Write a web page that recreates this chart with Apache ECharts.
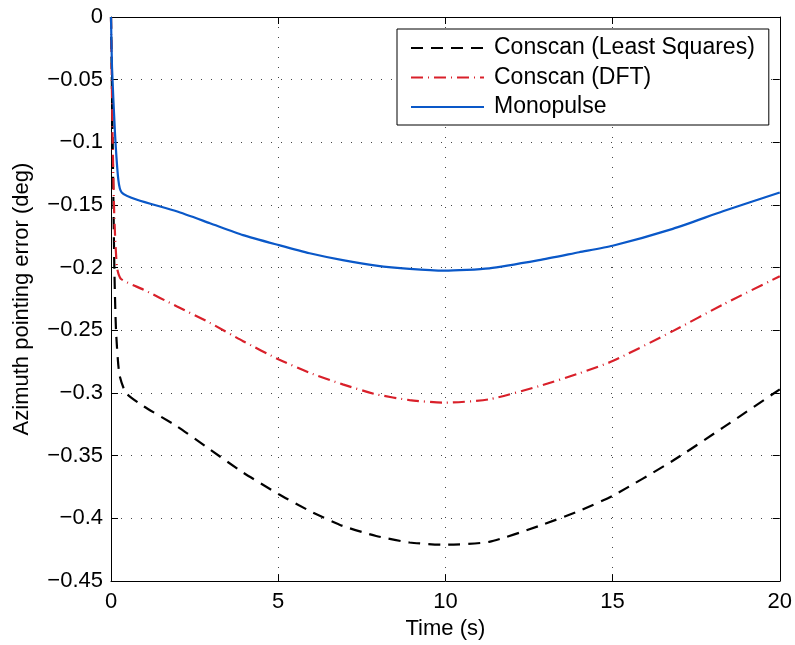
<!DOCTYPE html>
<html>
<head>
<meta charset="utf-8">
<script src="https://cdn.jsdelivr.net/npm/echarts@6/dist/echarts.min.js"></script>
<style>
html,body{margin:0;padding:0;background:#fff;}
#chart{width:795px;height:645px;}
</style>
</head>
<body>
<div id="chart"></div>
<script>
// ---- data ----
const lsTime = [0, 0.05, 0.1, 0.15, 0.25, 0.45, 0.97, 1.96, 2.96, 3.95, 5.02, 5.94, 6.93, 7.93, 8.93, 9.97, 11.31, 12.8, 14.0, 15.0, 16.8, 18.3, 20];
const lsValues = [0, -0.1, -0.2, -0.25, -0.285, -0.3, -0.3104, -0.3263, -0.345, -0.3634, -0.3807, -0.394, -0.406, -0.414, -0.4192, -0.421, -0.4187, -0.406, -0.394, -0.382, -0.354, -0.3276, -0.297];

const dftTime = [0, 0.05, 0.1, 0.18, 0.3, 0.97, 1.96, 2.96, 3.95, 5.02, 5.94, 6.93, 7.93, 8.93, 9.97, 11.31, 12.8, 14.0, 15.0, 16.8, 18.3, 20];
const dftValues = [0, -0.1, -0.16, -0.2, -0.209, -0.2175, -0.2307, -0.244, -0.2586, -0.2732, -0.2838, -0.2931, -0.301, -0.3056, -0.3077, -0.305, -0.2945, -0.2843, -0.2745, -0.2506, -0.2294, -0.2068];

const monoTime = [0, 0.03, 0.12, 0.22, 0.32, 0.78, 1.96, 2.96, 3.95, 5.02, 5.94, 6.93, 7.93, 8.93, 9.97, 11.31, 12.8, 14.0, 15.0, 16.8, 18.3, 20];
const monoValues = [0, -0.04, -0.093, -0.13, -0.14, -0.1458, -0.155, -0.1645, -0.174, -0.182, -0.1885, -0.194, -0.1984, -0.201, -0.2024, -0.2005, -0.194, -0.1877, -0.1825, -0.169, -0.155, -0.14];

const seriesNames = ['Conscan (Least Squares)', 'Conscan (DFT)', 'Monopulse'];
const xTicks = [0, 5, 10, 15, 20];
const yTicks = [0, -0.05, -0.1, -0.15, -0.2, -0.25, -0.3, -0.35, -0.4, -0.45];
const xLabel = 'Time (s)';
const yLabel = 'Azimuth pointing error (deg)';

function pairs(t, v) { return t.map((x, i) => [x, v[i]]); }

const FONT = 'Liberation Sans, Arial, Helvetica, sans-serif';
const fmtY = v => {
  const r = +(+v).toFixed(2);
  return r === 0 ? '0' : String(r).replace('-', '\u2212');
};

const chart = echarts.init(document.getElementById('chart'), null, {renderer: 'canvas'});
const gridLine = {show: true, lineStyle: {color: '#444', width: 1, type: [1, 9]}};
const axisLine = {show: true, onZero: false, lineStyle: {color: '#000', width: 1}};
const tick = {show: true, inside: true, length: 7, lineStyle: {color: '#000', width: 1}};

chart.setOption({
  animation: false,
  backgroundColor: '#fff',
  grid: {left: 111, right: 14, top: 17, bottom: 63, containLabel: false},
  legend: {
    left: 397, top: 29, orient: 'vertical',
    data: seriesNames,
    itemWidth: 73, itemHeight: 14, itemGap: 5.5,
    padding: [7, 14, 6, 13],
    backgroundColor: '#fff', borderColor: '#000', borderWidth: 1, borderRadius: 0,
    itemStyle: {opacity: 0},
    textStyle: {fontFamily: FONT, fontSize: 23, color: '#000', lineHeight: 24, padding: [0, 0, 0, 5]},
    z: 10
  },
  xAxis: [
    {type: 'value', min: xTicks[0], max: xTicks[xTicks.length - 1], interval: 5, position: 'bottom',
     name: xLabel, nameLocation: 'middle', nameGap: 32,
     nameTextStyle: {fontFamily: FONT, fontSize: 22, color: '#000'},
     axisLine: axisLine, axisTick: tick,
     axisLabel: {fontFamily: FONT, fontSize: 22, color: '#000', margin: 10},
     splitLine: gridLine},
    {type: 'value', min: xTicks[0], max: xTicks[xTicks.length - 1], interval: 5, position: 'top',
     axisLine: axisLine, axisTick: tick, axisLabel: {show: false}, splitLine: {show: false}}
  ],
  yAxis: [
    {type: 'value', min: yTicks[yTicks.length - 1], max: yTicks[0], interval: 0.05, position: 'left',
     name: yLabel, nameLocation: 'middle', nameGap: 78, nameRotate: 90,
     nameTextStyle: {fontFamily: FONT, fontSize: 22, color: '#000'},
     axisLine: axisLine, axisTick: tick,
     axisLabel: {fontFamily: FONT, fontSize: 22, color: '#000', margin: 8, formatter: fmtY},
     splitLine: gridLine},
    {type: 'value', min: yTicks[yTicks.length - 1], max: yTicks[0], interval: 0.05, position: 'right',
     axisLine: axisLine, axisTick: tick, axisLabel: {show: false}, splitLine: {show: false}}
  ],
  series: [
    {name: seriesNames[0], type: 'line', symbol: 'none', data: pairs(lsTime, lsValues),
     smooth: 0.2,
     lineStyle: {color: '#000000', width: 2.2, type: [12, 8]}, itemStyle: {color: '#000000'}, z: 3},
    {name: seriesNames[1], type: 'line', symbol: 'none', data: pairs(dftTime, dftValues),
     smooth: 0.2,
     lineStyle: {color: '#d9202a', width: 2.2, type: [12, 5, 1, 5]}, itemStyle: {color: '#d9202a'}, z: 4},
    {name: seriesNames[2], type: 'line', symbol: 'none', data: pairs(monoTime, monoValues),
     smooth: 0.2,
     lineStyle: {color: '#0a58c8', width: 2.2, type: 'solid'}, itemStyle: {color: '#0a58c8'}, z: 5}
  ]
});
</script>
</body>
</html>
